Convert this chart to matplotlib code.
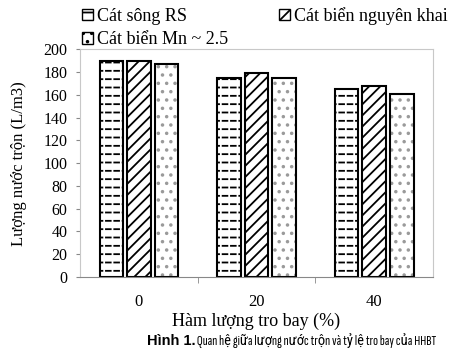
import numpy as np
import matplotlib
matplotlib.use("Agg")
import matplotlib.pyplot as plt
from matplotlib.patches import Patch

# data
groups = ["0", "20", "40"]
series = ["Cát sông RS", "Cát biển nguyên khai", "Cát biển Mn ~ 2.5"]
song_rs = [190, 175, 165]
bien_nk = [190, 179, 168]
bien_mn = [187, 175, 161]
yticks = list(range(0, 201, 20))

hatches = ["--", "///", ".."]
plt.rcParams["font.family"] = ["Liberation Serif", "DejaVu Serif"]
plt.rcParams["hatch.linewidth"] = 1.3

fig = plt.figure(figsize=(4.66, 3.56), dpi=100)
ax = fig.add_axes([0.172, 0.222, 0.757, 0.639])

x = np.arange(len(groups))
w = 0.2
off = [-0.235, 0, 0.235]
hcol = ["black", "black", "#9a9a9a"]
handles = []
for i, vals in enumerate([song_rs, bien_nk, bien_mn]):
    ax.bar(x + off[i], vals, w, color="white", edgecolor=hcol[i],
           linewidth=0, hatch=hatches[i])
    if i == 0:
        # break the lines into short dashes
        ax.bar(x + off[i], vals, w, color="none", edgecolor="white",
               linewidth=0, hatch="||")
    ax.bar(x + off[i], vals, w, color="none", edgecolor="black",
           linewidth=1.5)
    handles.append(Patch(facecolor="white", edgecolor="black",
                         hatch=hatches[i], label=series[i]))

ax.set_xlim(-0.5, 2.5)
ax.set_ylim(0, 200)
ax.set_yticks(yticks)
ax.set_xticks(x)
ax.set_xticklabels(groups)
ax.set_xticks([0.5, 1.5], minor=True)
ax.tick_params(axis="x", which="major", length=0, pad=12, labelsize=12)
ax.tick_params(axis="x", which="minor", length=4, color="#888888")
ax.tick_params(axis="y", length=3, color="#888888", pad=6, labelsize=11.5)
for s in ["top", "right", "left"]:
    ax.spines[s].set_color("#c8c8c8")
ax.spines["bottom"].set_color("#888888")
ax.set_ylabel("Lượng nước trộn (L/m3)", fontsize=12, labelpad=12)
ax.set_xlabel("Hàm lượng tro bay (%)", fontsize=13, labelpad=2)

fig.legend([handles[0], handles[2], handles[1]],
           [series[0], series[2], series[1]],
           ncol=2, loc="upper left", bbox_to_anchor=(0.16, 1.0),
           frameon=False, fontsize=13, handlelength=0.6, handleheight=0.6,
           handletextpad=0.25, columnspacing=2.8, labelspacing=0.35,
           borderaxespad=0)

# caption
cap = fig.text(0.315, 0.032, "Hình 1.", fontsize=10.5, fontweight="bold",
               family=["Liberation Sans", "DejaVu Sans"])
ax.annotate(" Quan hệ giữa lượng nước trộn và tỷ lệ tro bay của HHBT",
            xy=(1, 0), xycoords=cap, va="bottom", ha="left",
            annotation_clip=False, fontsize=10.5,
            family=["Sofia Sans Extra Condensed", "Roboto Condensed",
                    "Liberation Sans"])

fig.savefig("out.png", dpi=100)
